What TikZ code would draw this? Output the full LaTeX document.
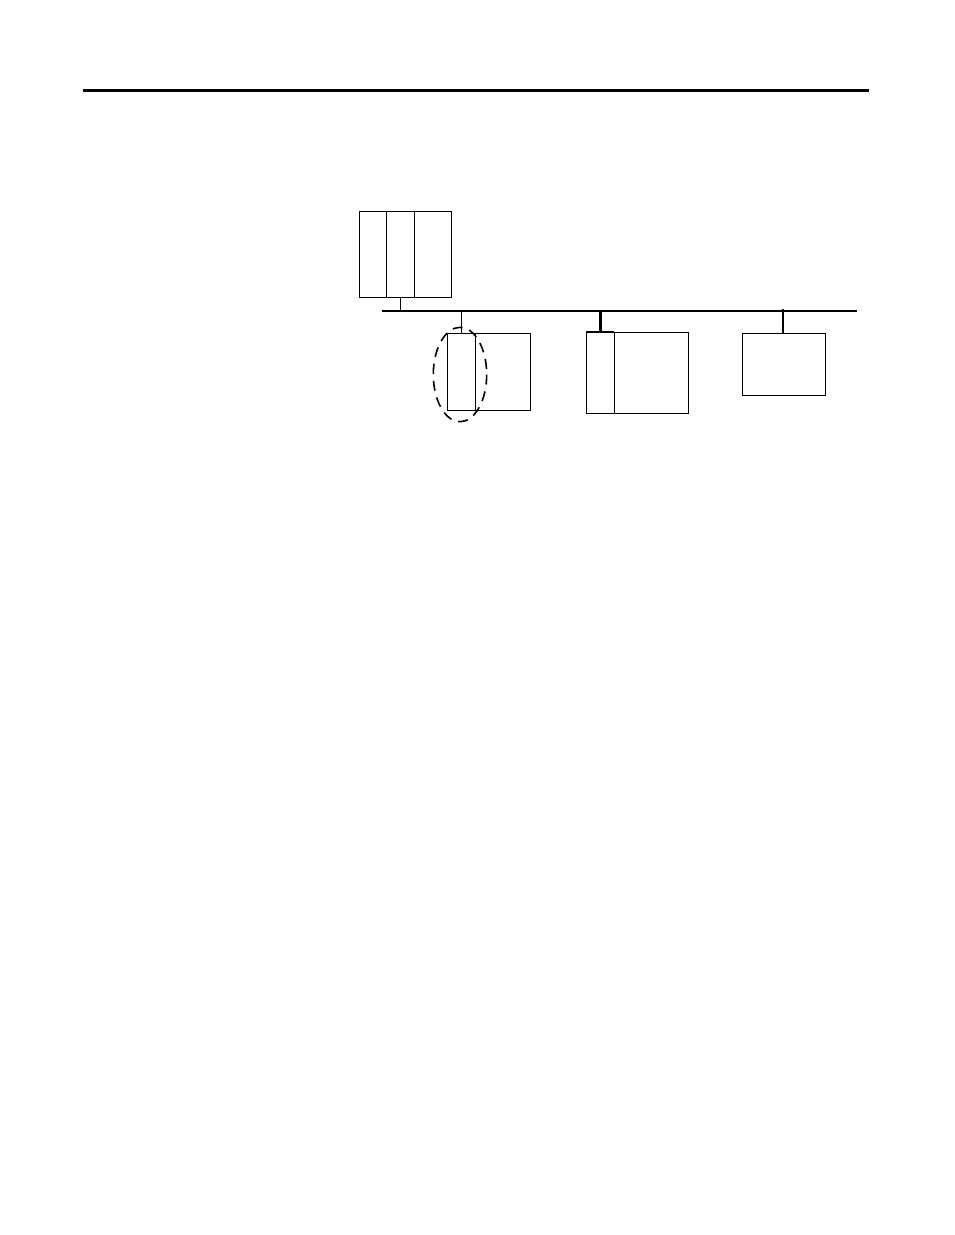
\documentclass[tikz,border=0pt]{standalone}
\usepackage{tikz}

\begin{document}
\begin{tikzpicture}[x=1pt,y=-1pt,
                unit/.style={draw,line width=1pt,rectangle,inner sep=0pt},
                link/.style={line width=2.4pt}]
                \useasboundingbox (0,0) rectangle (954,1235);
                \draw[line width=2.5pt](82.7,90.5)--(868.7,90.5);

                % controller chassis
                \node[unit,minimum width=92.4pt,minimum height=85.6pt] (plc) at(405.5,254.5) {};
                \draw[line width=1pt](386.3,0 |- plc.north)--(386.3,0 |- plc.south);
                \draw[line width=1pt](414.3,0 |- plc.north)--(414.3,0 |- plc.south);

                % network
                \coordinate (busL) at(381.7,311);
                \coordinate (busR) at(857.3,311);
                \draw[link](busL)--(busR);

                \node[unit,minimum width=82.8pt,minimum height=76.6pt] (adapter) at(488.9,371.8) {};
                \node[unit,minimum width=101.7pt,minimum height=80.6pt] (drive) at(637.55,372.8) {};
                \node[unit,minimum width=83.4pt,minimum height=62.4pt] (station) at(784,364.5) {};

                \draw[line width=1pt](475.2,0 |- adapter.north)--(475.2,0 |- adapter.south);
                \draw[line width=1pt](614.4,0 |- drive.north)--(614.4,0 |- drive.south);
                \draw[line width=2pt](drive.north west)--(614.4,0 |- drive.north);

                % drops
                \coordinate (tapPlc) at(400.3,311);
                \coordinate (tapAdapter) at(461,311);
                \coordinate (tapDrive) at(600.6,311);
                \coordinate (tapStation) at(783,309.3);
                \draw[line width=1pt](tapPlc)--(tapPlc |- plc.south);
                \draw[line width=1pt](tapAdapter)--(tapAdapter |- adapter.north);
                \draw[line width=2.5pt](tapDrive)--(tapDrive |- drive.north);
                \draw[line width=2.5pt](tapStation)--([yshift=-1pt]tapStation |- station.north);

                \draw[line width=1.6pt,dash pattern=on 10pt off 7pt](460,374.5) ellipse(26.7 and 47.2);
            \end{tikzpicture}
\end{document}
